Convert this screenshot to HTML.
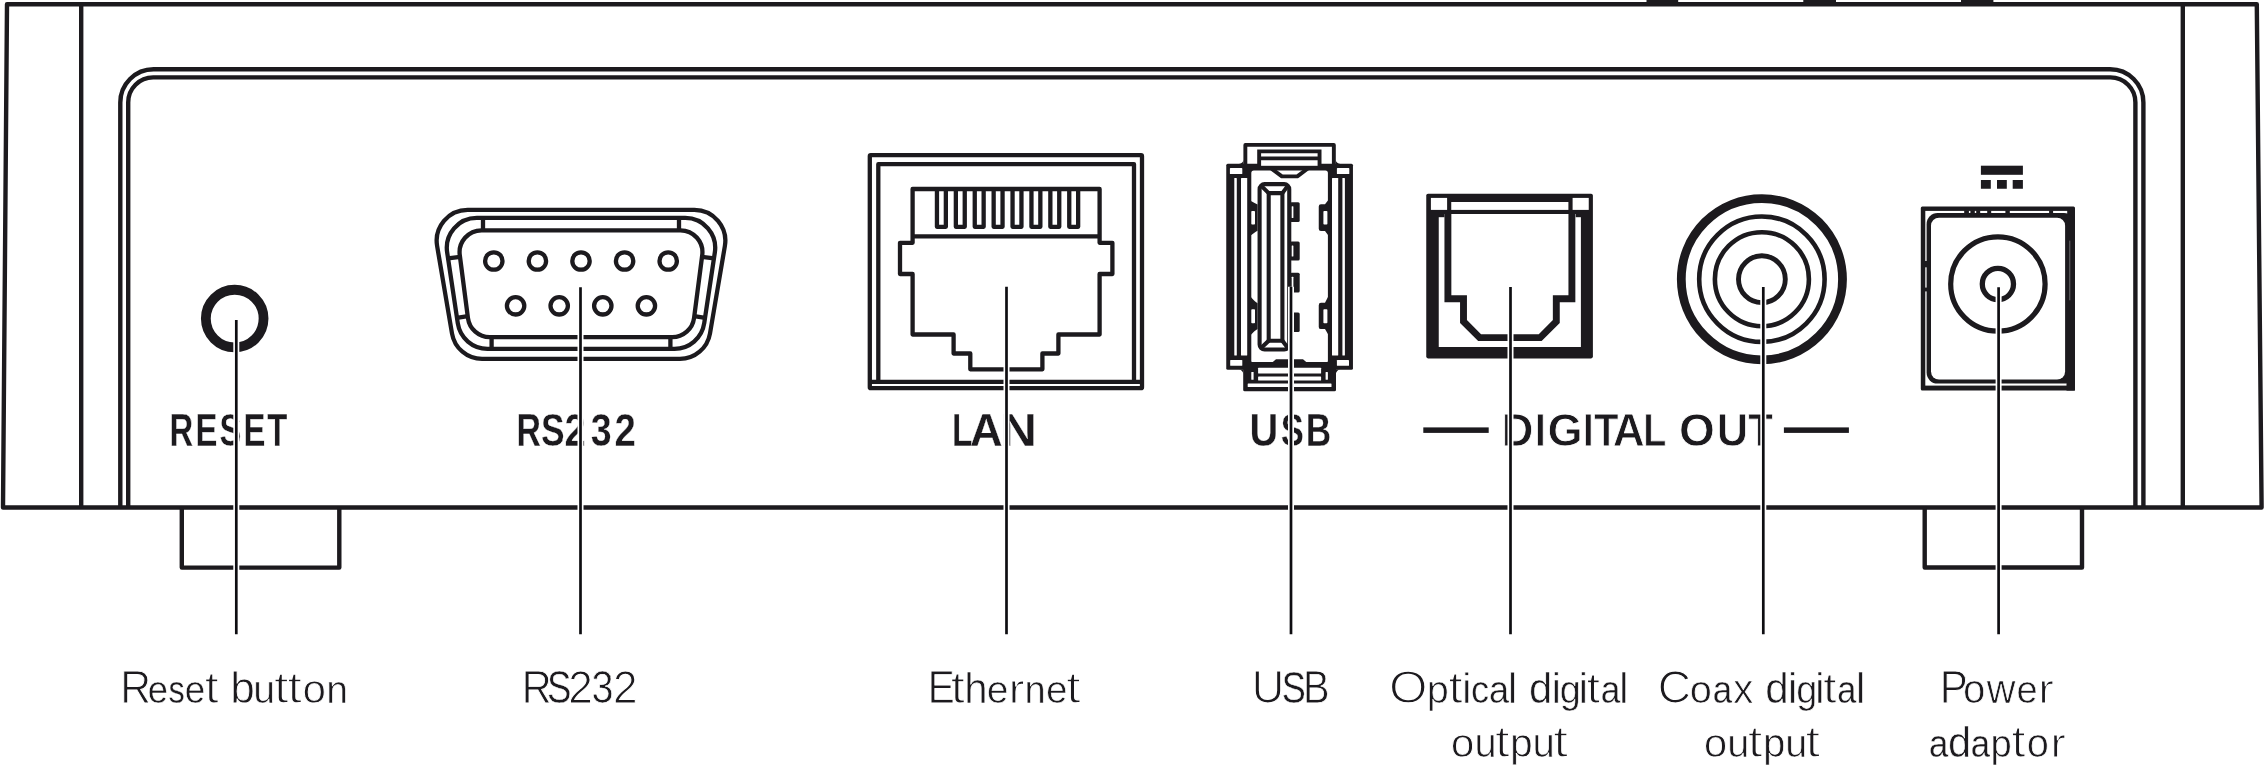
<!DOCTYPE html><html><head><meta charset="utf-8"><title>Rear panel connections</title><style>
html,body{margin:0;padding:0;background:#fff;width:2264px;height:768px;overflow:hidden}
svg{display:block;will-change:transform}
.b{font-family:"Liberation Sans",sans-serif;font-weight:bold;fill:#1c1a1e;stroke:#fff;stroke-width:0.3}
.l{font-family:"Liberation Sans",sans-serif;font-weight:normal;fill:#1c1a1e;stroke:#fff;stroke-width:0.9}
</style></head><body>
<svg width="2264" height="768" viewBox="0 0 2264 768">
<rect width="2264" height="768" fill="#fff"/>
<g fill="none" stroke="#1c1a1e" stroke-width="4.4" stroke-linejoin="round">
<path d="M7 4.2 H2256.8 L2261.6 507.5 H3 Z"/>
<path d="M81.2 4.2 V507.5 M2182.8 4.2 V507.5"/>
<path d="M120.3 507.5 V102.6 A33.3 33.3 0 0 1 153.6 69.3 H2110.1 A33.3 33.3 0 0 1 2143.4 102.6 V507.5"/>
<path d="M128.2 507.5 V102.4 A25 25 0 0 1 153.2 77.4 H2110.4 A25 25 0 0 1 2135.4 102.4 V507.5"/>
<path d="M181.8 507.5 V567.6 H339.3 V507.5"/>
<path d="M1924.7 507.5 V567.5 H2082 V507.5"/>
</g>
<g fill="#1c1a1e">
<path d="M1646.5 0 H1678.2 V2 Q1678.2 2.5 1681.2 4 H1643.5 Q1646.5 2.5 1646.5 2 Z"/>
<path d="M1803.3 0 H1836 V2 Q1836 2.5 1839 4 H1800.3 Q1803.3 2.5 1803.3 2 Z"/>
<path d="M1961 0 H1993.4 V2 Q1993.4 2.5 1996.4 4 H1958 Q1961 2.5 1961 2 Z"/>
</g>
<circle cx="234.7" cy="318.6" r="28.85" fill="none" stroke="#1c1a1e" stroke-width="9.8"/>
<g fill="none" stroke="#1c1a1e" stroke-width="4.3">
<path d="M452 333.51 L437.12 246 A31 31 0 0 1 467.68 209.8 L694.32 209.8 A31 31 0 0 1 724.88 246 L710 333.51 A30.5 30.5 0 0 1 679.93 358.9 L482.07 358.9 A30.5 30.5 0 0 1 452 333.51 Z"/>
<path d="M457.79 323.25 L447.15 252.35 A30 30 0 0 1 476.82 217.9 L685.18 217.9 A30 30 0 0 1 714.85 252.35 L704.21 323.25 A30 30 0 0 1 674.54 348.8 L487.46 348.8 A30 30 0 0 1 457.79 323.25 Z"/>
<path d="M467.94 318.04 L459.77 255.14 A22 22 0 0 1 481.58 230.3 L680.42 230.3 A22 22 0 0 1 702.23 255.14 L694.06 318.04 A22 22 0 0 1 672.24 337.2 L489.76 337.2 A22 22 0 0 1 467.94 318.04 Z"/>
<path d="M483 217.9 V230.3 M679 217.9 V230.3 M491.6 337.2 V348.8 M670.4 337.2 V348.8 M447.94 258.4 L460.09 256.8 M714.06 258.4 L701.91 256.8 M456.85 317.8 L467.81 316.2 M705.15 317.8 L694.19 316.2"/>
<circle cx="493.8" cy="261" r="8.7"/>
<circle cx="537.4" cy="261" r="8.7"/>
<circle cx="581" cy="261" r="8.7"/>
<circle cx="624.6" cy="261" r="8.7"/>
<circle cx="668.2" cy="261" r="8.7"/>
<circle cx="515.6" cy="305.8" r="8.7"/>
<circle cx="559.2" cy="305.8" r="8.7"/>
<circle cx="602.8" cy="305.8" r="8.7"/>
<circle cx="646.4" cy="305.8" r="8.7"/>
</g>
<g fill="none" stroke="#1c1a1e" stroke-width="4.3" stroke-linejoin="round">
<rect x="869.8" y="155.2" width="272.2" height="233" rx="1"/>
<path d="M878.3 381.8 V164.2 H1134 V381.8 M869.8 381.8 H1142"/>
<path d="M912.6 189 H1099.6 V242.8 H1112.4 V274 H1099.6 V334.5 H1058.4 V353.5 H1042.4 V369.3 H970.3 V353.5 H953.6 V334.5 H912.6 V274 H900 V242.8 H912.6 Z"/>
<path d="M912.6 236.3 H1099.6"/>
<path d="M936.95 189 V226.8 H945.85 V189 M955.85 189 V226.8 H964.75 V189 M974.75 189 V226.8 H983.65 V189 M993.65 189 V226.8 H1002.55 V189 M1012.55 189 V226.8 H1021.45 V189 M1031.45 189 V226.8 H1040.35 V189 M1050.35 189 V226.8 H1059.25 V189 M1069.25 189 V226.8 H1078.15 V189"/>
</g>
<rect x="1226.25" y="163.8" width="126.7" height="205.9" rx="1.5" fill="#1c1a1e"/>
<rect x="1229.9" y="168.1" width="12.4" height="5.9" rx="0.6" fill="#fff"/>
<rect x="1336.9" y="168.1" width="12.4" height="5.9" rx="0.6" fill="#fff"/>
<rect x="1234.3" y="177.9" width="2.5" height="177.7" rx="0.6" fill="#fff"/>
<rect x="1342.4" y="177.9" width="2.5" height="177.7" rx="0.6" fill="#fff"/>
<rect x="1241" y="177.9" width="6.2" height="177.7" rx="0.6" fill="#fff"/>
<rect x="1332" y="177.9" width="6.2" height="177.7" rx="0.6" fill="#fff"/>
<rect x="1230.2" y="359.9" width="12.1" height="5.9" rx="0.6" fill="#fff"/>
<rect x="1336.9" y="359.9" width="12.1" height="5.9" rx="0.6" fill="#fff"/>
<rect x="1251.3" y="170.5" width="76.6" height="192.5" rx="2.5" fill="#fff"/>
<path d="M1245.35 166 V144.9 H1333.85 V166" fill="none" stroke="#1c1a1e" stroke-width="3.9" stroke-linejoin="round"/>
<path d="M1239 163.9 H1243.5 V159.4 A4.5 4.5 0 0 1 1239 163.9 Z M1340.2 163.9 H1335.7 V159.4 A4.5 4.5 0 0 0 1340.2 163.9 Z" fill="#1c1a1e"/>
<rect x="1261" y="160.3" width="57.2" height="5.5" fill="#fff"/>
<path d="M1259.15 166 V151.35 H1319.55 V166 M1259.15 158.35 H1319.55" fill="none" stroke="#1c1a1e" stroke-width="3.9"/>
<path d="M1270.7 168 L1281.9 176.35 H1297.3 L1308.5 168" fill="none" stroke="#1c1a1e" stroke-width="3.9" stroke-linejoin="round"/>
<path d="M1271 363.5 L1276 359.2 H1303 L1308 363.5 Z" fill="#1c1a1e"/>
<rect x="1243.2" y="362" width="92.8" height="29.2" rx="1.5" fill="#1c1a1e"/>
<path d="M1238.8 369.6 H1243.3 V374.1 A4.5 4.5 0 0 0 1238.8 369.6 Z M1340.4 369.6 H1335.9 V374.1 A4.5 4.5 0 0 1 1340.4 369.6 Z" fill="#1c1a1e"/>
<rect x="1258.1" y="367.7" width="63" height="5.9" rx="0.5" fill="#fff"/>
<rect x="1258.1" y="376.6" width="63" height="3.9" rx="0.5" fill="#fff"/>
<rect x="1247.7" y="383.6" width="83.8" height="3.3" rx="0.5" fill="#fff"/>
<rect x="1251.3" y="372" width="2.3" height="7.8" rx="0.5" fill="#fff"/>
<rect x="1325.6" y="372" width="2.3" height="7.8" rx="0.5" fill="#fff"/>
<path d="M1250 200.6 Q1255 203.4 1257.6 204.6 V230.8 Q1255 232 1250 236 Z" fill="#1c1a1e"/>
<rect x="1251.3" y="211" width="3.7" height="13.6" rx="0.8" fill="#fff"/>
<path d="M1329.5 198.6 L1325 204.2 H1321 Q1318.75 204.2 1318.75 206.6 V228.8 Q1318.75 231 1321 231 H1325 L1329.5 237 Z" fill="#1c1a1e"/>
<rect x="1323.4" y="211" width="4" height="13.6" rx="0.8" fill="#fff"/>
<path d="M1250 296 Q1255 302 1257.6 303.2 V328.9 Q1255 330.1 1250 335.8 Z" fill="#1c1a1e"/>
<rect x="1251.3" y="309.2" width="3.7" height="14" rx="0.8" fill="#fff"/>
<path d="M1329.5 294 L1325 302.8 H1321 Q1318.75 302.8 1318.75 305.2 V326.9 Q1318.75 329.1 1321 329.1 H1325 L1329.5 336.8 Z" fill="#1c1a1e"/>
<rect x="1323.4" y="309.2" width="4" height="14" rx="0.8" fill="#fff"/>
<g fill="none" stroke="#1c1a1e" stroke-width="4.1" stroke-linejoin="round">
<rect x="1259.6" y="184.15" width="29.65" height="165.4" rx="5"/>
<rect x="1268.7" y="193.1" width="13.7" height="147.6"/>
<path d="M1260.8 185.4 L1268.7 193.1 M1288.1 185.4 L1282.4 193.1 M1260.8 348.3 L1268.7 340.7 M1288.1 348.3 L1282.4 340.7"/>
</g>
<rect x="1290" y="202.3" width="9.7" height="19.6" rx="1.5" fill="#1c1a1e"/>
<rect x="1291.7" y="206.3" width="1.7" height="11.6" rx="0.5" fill="#fff"/>
<rect x="1290" y="241.5" width="9.7" height="19.1" rx="1.5" fill="#1c1a1e"/>
<rect x="1291.7" y="245.5" width="1.7" height="11.1" rx="0.5" fill="#fff"/>
<rect x="1290" y="272.7" width="9.7" height="19.8" rx="1.5" fill="#1c1a1e"/>
<rect x="1291.7" y="276.7" width="1.7" height="11.8" rx="0.5" fill="#fff"/>
<rect x="1290" y="312.4" width="9.7" height="19.5" rx="1.5" fill="#1c1a1e"/>
<rect x="1291.7" y="316.4" width="1.7" height="11.5" rx="0.5" fill="#fff"/>
<rect x="1426.25" y="193.7" width="166.65" height="164.7" rx="1.8" fill="#1c1a1e"/>
<rect x="1430.9" y="197.9" width="16.2" height="12" fill="#fff"/>
<rect x="1572.6" y="197.9" width="16.15" height="12" fill="#fff"/>
<rect x="1451.25" y="202" width="117.15" height="7.9" fill="#fff"/>
<rect x="1438.75" y="217.2" width="142.15" height="129.8" fill="#fff"/>
<rect x="1444.5" y="214" width="131.2" height="8" fill="#fff"/>
<path d="M1447.9 212 V298.8 H1463.5 V321.5 L1479.6 337.6 H1540.2 L1556.3 321.5 V298.8 H1571.9 V212" fill="none" stroke="#1c1a1e" stroke-width="6.9" stroke-linejoin="miter"/>
<g fill="none" stroke="#1c1a1e">
<circle cx="1761.9" cy="279.2" r="80.6" stroke-width="8.8"/>
<circle cx="1761.9" cy="279.2" r="62.7" stroke-width="4.6"/>
<circle cx="1761.9" cy="279.2" r="47" stroke-width="4.6"/>
<circle cx="1761.9" cy="279.2" r="23.4" stroke-width="4.9"/>
</g>
<g fill="#1c1a1e">
<rect x="1980.9" y="165.7" width="42" height="9.1" fill="#1c1a1e"/>
<rect x="1980.9" y="180" width="9.9" height="8.75" fill="#1c1a1e"/>
<rect x="1997" y="180" width="9.8" height="8.75" fill="#1c1a1e"/>
<rect x="2012.7" y="180" width="10.2" height="8.75" fill="#1c1a1e"/>
</g>
<rect x="1920.8" y="206.6" width="154.2" height="184" rx="1.5" fill="#1c1a1e"/>
<rect x="1925.3" y="210.9" width="141.9" height="174.7" fill="#fff"/>
<rect x="1926.6" y="213.1" width="148.4" height="170.5" rx="11" fill="#1c1a1e"/>
<rect x="2066.5" y="375" width="8.5" height="15.6" fill="#1c1a1e"/>
<rect x="1964.2" y="210.3" width="4.7" height="3.2" fill="#1c1a1e"/>
<rect x="1970.4" y="210.3" width="4.4" height="3.2" fill="#1c1a1e"/>
<rect x="1976.2" y="210.3" width="4" height="3.2" fill="#1c1a1e"/>
<rect x="1987.2" y="210.3" width="4" height="3.2" fill="#1c1a1e"/>
<rect x="2005.4" y="210.3" width="4.4" height="3.2" fill="#1c1a1e"/>
<rect x="2049.1" y="210.3" width="4" height="3.2" fill="#1c1a1e"/>
<rect x="1924.8" y="261" width="2.4" height="6.3" fill="#1c1a1e"/>
<rect x="1924.8" y="287.6" width="2.4" height="3.8" fill="#1c1a1e"/>
<rect x="2069.5" y="240.6" width="0.7" height="59.7" fill="#8a898c"/>
<rect x="1931" y="217.7" width="134.1" height="161.9" rx="8" fill="#fff"/>
<g fill="none" stroke="#1c1a1e">
<circle cx="1997.9" cy="284" r="47.2" stroke-width="5.2"/>
<circle cx="1997.9" cy="284" r="15.6" stroke-width="5.3"/>
</g>
<rect x="1423.3" y="427.4" width="65.4" height="5.5" fill="#1c1a1e"/>
<rect x="1783.9" y="427.4" width="65" height="5.5" fill="#1c1a1e"/>
<text class="b" x="169.62" y="445.8" font-size="46" textLength="23.73" lengthAdjust="spacingAndGlyphs" style="stroke-width:0.3">R</text>
<text class="b" x="195.54" y="445.8" font-size="46" textLength="21.91" lengthAdjust="spacingAndGlyphs" style="stroke-width:0.3">E</text>
<text class="b" x="219.56" y="445.8" font-size="46" textLength="21.91" lengthAdjust="spacingAndGlyphs" style="stroke-width:0.3">S</text>
<text class="b" x="243.49" y="445.8" font-size="46" textLength="21.91" lengthAdjust="spacingAndGlyphs" style="stroke-width:0.3">E</text>
<text class="b" x="267.13" y="445.8" font-size="46" textLength="20.07" lengthAdjust="spacingAndGlyphs" style="stroke-width:0.3">T</text>
<text class="b" x="516.5" y="445.8" font-size="46" textLength="24.43" lengthAdjust="spacingAndGlyphs" style="stroke-width:0.3">R</text>
<text class="b" x="541.03" y="445.8" font-size="46" textLength="23.6" lengthAdjust="spacingAndGlyphs" style="stroke-width:0.3">S</text>
<text class="b" x="564.41" y="445.8" font-size="46" textLength="21.19" lengthAdjust="spacingAndGlyphs" style="stroke-width:0.3">2</text>
<text class="b" x="590.8" y="445.8" font-size="46" textLength="20.9" lengthAdjust="spacingAndGlyphs" style="stroke-width:0.3">3</text>
<text class="b" x="614.57" y="445.8" font-size="46" textLength="21.37" lengthAdjust="spacingAndGlyphs" style="stroke-width:0.3">2</text>
<text class="b" x="951.96" y="445.8" font-size="46" textLength="20.47" lengthAdjust="spacingAndGlyphs" style="stroke-width:0.3">L</text>
<text class="b" x="969.86" y="445.8" font-size="46" textLength="33.05" lengthAdjust="spacingAndGlyphs" style="stroke-width:0.3">A</text>
<text class="b" x="1000.42" y="445.8" font-size="46" textLength="36.48" lengthAdjust="spacingAndGlyphs" style="stroke-width:0.3">N</text>
<text class="b" x="1249.51" y="445.8" font-size="46" textLength="28.83" lengthAdjust="spacingAndGlyphs" style="stroke-width:0.3">U</text>
<text class="b" x="1280.72" y="445.8" font-size="46" textLength="23.11" lengthAdjust="spacingAndGlyphs" style="stroke-width:0.3">S</text>
<text class="b" x="1305.72" y="445.8" font-size="46" textLength="25.4" lengthAdjust="spacingAndGlyphs" style="stroke-width:0.3">B</text>
<text class="b" x="1501.65" y="445.8" font-size="46" textLength="31.71" lengthAdjust="spacingAndGlyphs" style="stroke-width:0.8">D</text>
<text class="b" x="1534.93" y="445.8" font-size="46" textLength="10.75" lengthAdjust="spacingAndGlyphs" style="stroke-width:0.8">I</text>
<text class="b" x="1547.5" y="445.8" font-size="46" textLength="35.15" lengthAdjust="spacingAndGlyphs" style="stroke-width:0.8">G</text>
<text class="b" x="1583.02" y="445.8" font-size="46" textLength="10.65" lengthAdjust="spacingAndGlyphs" style="stroke-width:0.8">I</text>
<text class="b" x="1593.89" y="445.8" font-size="46" textLength="24.49" lengthAdjust="spacingAndGlyphs" style="stroke-width:0.8">T</text>
<text class="b" x="1612.76" y="445.8" font-size="46" textLength="32.04" lengthAdjust="spacingAndGlyphs" style="stroke-width:0.8">A</text>
<text class="b" x="1643.22" y="445.8" font-size="46" textLength="23.09" lengthAdjust="spacingAndGlyphs" style="stroke-width:0.8">L</text>
<text class="b" x="1679.1" y="445.8" font-size="46" textLength="35.85" lengthAdjust="spacingAndGlyphs" style="stroke-width:0.8">O</text>
<text class="b" x="1716.85" y="445.8" font-size="46" textLength="31.44" lengthAdjust="spacingAndGlyphs" style="stroke-width:0.8">U</text>
<text class="b" x="1748.19" y="445.8" font-size="46" textLength="24.7" lengthAdjust="spacingAndGlyphs" style="stroke-width:0.8">T</text>
<text class="l" x="120.22" y="702.7" font-size="46.04" textLength="30.83" lengthAdjust="spacingAndGlyphs" style="stroke-width:0.97">R</text>
<text class="l" x="147.84" y="702.7" font-size="39.27" textLength="20.29" lengthAdjust="spacingAndGlyphs" style="stroke-width:0.45">e</text>
<text class="l" x="168.57" y="702.7" font-size="38.99" textLength="16.23" lengthAdjust="spacingAndGlyphs" style="stroke-width:0.3">s</text>
<text class="l" x="184.8" y="702.7" font-size="39.32" textLength="20.48" lengthAdjust="spacingAndGlyphs" style="stroke-width:0.47">e</text>
<text class="l" x="204.66" y="702.7" font-size="43.45" textLength="13.94" lengthAdjust="spacingAndGlyphs" style="stroke-width:1.19">t</text>
<text class="l" x="230.35" y="702.7" font-size="43.47" textLength="24.6" lengthAdjust="spacingAndGlyphs" style="stroke-width:0.8">b</text>
<text class="l" x="253.3" y="702.7" font-size="39.63" textLength="21.75" lengthAdjust="spacingAndGlyphs" style="stroke-width:0.64">u</text>
<text class="l" x="274.06" y="702.7" font-size="43.63" textLength="14.57" lengthAdjust="spacingAndGlyphs" style="stroke-width:1.3">t</text>
<text class="l" x="287.5" y="702.7" font-size="43.58" textLength="14.39" lengthAdjust="spacingAndGlyphs" style="stroke-width:1.27">t</text>
<text class="l" x="302.46" y="702.7" font-size="40.02" textLength="23.48" lengthAdjust="spacingAndGlyphs" style="stroke-width:0.84">o</text>
<text class="l" x="326.15" y="702.7" font-size="39.63" textLength="21.75" lengthAdjust="spacingAndGlyphs" style="stroke-width:0.64">n</text>
<text class="l" x="521.72" y="702.7" font-size="45.89" textLength="29.89" lengthAdjust="spacingAndGlyphs" style="stroke-width:0.88">R</text>
<text class="l" x="546.9" y="702.7" font-size="45.32" textLength="24.43" lengthAdjust="spacingAndGlyphs" style="stroke-width:0.48">S</text>
<text class="l" x="568.27" y="702.7" font-size="46.19" textLength="24.57" lengthAdjust="spacingAndGlyphs" style="stroke-width:1.08">2</text>
<text class="l" x="591.51" y="702.7" font-size="45.69" textLength="22.01" lengthAdjust="spacingAndGlyphs" style="stroke-width:0.73">3</text>
<text class="l" x="613.07" y="702.7" font-size="46.19" textLength="24.57" lengthAdjust="spacingAndGlyphs" style="stroke-width:1.08">2</text>
<text class="l" x="927.69" y="702.7" font-size="45.78" textLength="26.94" lengthAdjust="spacingAndGlyphs" style="stroke-width:0.8">E</text>
<text class="l" x="950.85" y="702.7" font-size="43.49" textLength="14.09" lengthAdjust="spacingAndGlyphs" style="stroke-width:1.22">t</text>
<text class="l" x="964.33" y="702.7" font-size="43.25" textLength="23.35" lengthAdjust="spacingAndGlyphs" style="stroke-width:0.64">h</text>
<text class="l" x="986.86" y="702.7" font-size="39.64" textLength="21.76" lengthAdjust="spacingAndGlyphs" style="stroke-width:0.64">e</text>
<text class="l" x="1008.53" y="702.7" font-size="40.65" textLength="16.05" lengthAdjust="spacingAndGlyphs" style="stroke-width:1.18">r</text>
<text class="l" x="1024.43" y="702.7" font-size="39.5" textLength="21.19" lengthAdjust="spacingAndGlyphs" style="stroke-width:0.57">n</text>
<text class="l" x="1046.08" y="702.7" font-size="39.58" textLength="21.52" lengthAdjust="spacingAndGlyphs" style="stroke-width:0.61">e</text>
<text class="l" x="1066.15" y="702.7" font-size="43.58" textLength="14.39" lengthAdjust="spacingAndGlyphs" style="stroke-width:1.27">t</text>
<text class="l" x="1251.65" y="702.7" font-size="46.27" textLength="32.5" lengthAdjust="spacingAndGlyphs" style="stroke-width:1.13">U</text>
<text class="l" x="1281.67" y="702.7" font-size="45.24" textLength="24.07" lengthAdjust="spacingAndGlyphs" style="stroke-width:0.43">S</text>
<text class="l" x="1303.06" y="702.7" font-size="45.72" textLength="26.6" lengthAdjust="spacingAndGlyphs" style="stroke-width:0.76">B</text>
<text class="l" x="1389.14" y="702.7" font-size="46.66" textLength="38.45" lengthAdjust="spacingAndGlyphs" style="stroke-width:1.4">O</text>
<text class="l" x="1426.83" y="702.7" font-size="39.7" textLength="22.06" lengthAdjust="spacingAndGlyphs" style="stroke-width:0.68">p</text>
<text class="l" x="1448.62" y="702.7" font-size="43.51" textLength="14.16" lengthAdjust="spacingAndGlyphs" style="stroke-width:1.23">t</text>
<text class="l" x="1461.99" y="702.7" font-size="43.4" textLength="9.65" lengthAdjust="spacingAndGlyphs" style="stroke-width:0.75">i</text>
<text class="l" x="1471.12" y="702.7" font-size="39.22" textLength="18.07" lengthAdjust="spacingAndGlyphs" style="stroke-width:0.42">c</text>
<text class="l" x="1489.04" y="702.7" font-size="39.21" textLength="20.09" lengthAdjust="spacingAndGlyphs" style="stroke-width:0.42">a</text>
<text class="l" x="1507.86" y="702.7" font-size="43.4" textLength="9.65" lengthAdjust="spacingAndGlyphs" style="stroke-width:0.75">l</text>
<text class="l" x="1528.96" y="702.7" font-size="43.23" textLength="23.22" lengthAdjust="spacingAndGlyphs" style="stroke-width:0.63">d</text>
<text class="l" x="1551.63" y="702.7" font-size="43.18" textLength="9.17" lengthAdjust="spacingAndGlyphs" style="stroke-width:0.59">i</text>
<text class="l" x="1559.76" y="702.7" font-size="39.46" textLength="21.03" lengthAdjust="spacingAndGlyphs" style="stroke-width:0.55">g</text>
<text class="l" x="1578.83" y="702.7" font-size="43.18" textLength="9.17" lengthAdjust="spacingAndGlyphs" style="stroke-width:0.59">i</text>
<text class="l" x="1586.69" y="702.7" font-size="43.23" textLength="13.25" lengthAdjust="spacingAndGlyphs" style="stroke-width:1.05">t</text>
<text class="l" x="1600.75" y="702.7" font-size="39.06" textLength="19.51" lengthAdjust="spacingAndGlyphs" style="stroke-width:0.33">a</text>
<text class="l" x="1619.31" y="702.7" font-size="43.18" textLength="9.17" lengthAdjust="spacingAndGlyphs" style="stroke-width:0.59">l</text>
<text class="l" x="1450.75" y="757.4" font-size="40.05" textLength="23.6" lengthAdjust="spacingAndGlyphs" style="stroke-width:0.86">o</text>
<text class="l" x="1474.56" y="757.4" font-size="39.72" textLength="22.14" lengthAdjust="spacingAndGlyphs" style="stroke-width:0.69">u</text>
<text class="l" x="1495.11" y="757.4" font-size="43.65" textLength="14.66" lengthAdjust="spacingAndGlyphs" style="stroke-width:1.32">t</text>
<text class="l" x="1510.04" y="757.4" font-size="39.85" textLength="22.71" lengthAdjust="spacingAndGlyphs" style="stroke-width:0.76">p</text>
<text class="l" x="1532.42" y="757.4" font-size="39.78" textLength="22.38" lengthAdjust="spacingAndGlyphs" style="stroke-width:0.72">u</text>
<text class="l" x="1553.31" y="757.4" font-size="43.69" textLength="14.81" lengthAdjust="spacingAndGlyphs" style="stroke-width:1.35">t</text>
<text class="l" x="1657.78" y="702.7" font-size="46.37" textLength="33.25" lengthAdjust="spacingAndGlyphs" style="stroke-width:1.2">C</text>
<text class="l" x="1689.85" y="702.7" font-size="39.71" textLength="22.09" lengthAdjust="spacingAndGlyphs" style="stroke-width:0.68">o</text>
<text class="l" x="1712.79" y="702.7" font-size="39.01" textLength="19.35" lengthAdjust="spacingAndGlyphs" style="stroke-width:0.31">a</text>
<text class="l" x="1733.17" y="702.7" font-size="39.76" textLength="20.05" lengthAdjust="spacingAndGlyphs" style="stroke-width:0.71">x</text>
<text class="l" x="1765.2" y="702.7" font-size="43.27" textLength="23.44" lengthAdjust="spacingAndGlyphs" style="stroke-width:0.65">d</text>
<text class="l" x="1787.97" y="702.7" font-size="43.18" textLength="9.18" lengthAdjust="spacingAndGlyphs" style="stroke-width:0.59">i</text>
<text class="l" x="1796.25" y="702.7" font-size="39.46" textLength="21.04" lengthAdjust="spacingAndGlyphs" style="stroke-width:0.55">g</text>
<text class="l" x="1815.32" y="702.7" font-size="43.18" textLength="9.18" lengthAdjust="spacingAndGlyphs" style="stroke-width:0.59">i</text>
<text class="l" x="1823.18" y="702.7" font-size="43.23" textLength="13.26" lengthAdjust="spacingAndGlyphs" style="stroke-width:1.05">t</text>
<text class="l" x="1837.32" y="702.7" font-size="38.99" textLength="19.01" lengthAdjust="spacingAndGlyphs" style="stroke-width:0.3">a</text>
<text class="l" x="1856" y="702.7" font-size="43.18" textLength="9.18" lengthAdjust="spacingAndGlyphs" style="stroke-width:0.59">l</text>
<text class="l" x="1703.7" y="757.4" font-size="40.03" textLength="23.5" lengthAdjust="spacingAndGlyphs" style="stroke-width:0.85">o</text>
<text class="l" x="1727.21" y="757.4" font-size="39.7" textLength="22.03" lengthAdjust="spacingAndGlyphs" style="stroke-width:0.67">u</text>
<text class="l" x="1747.8" y="757.4" font-size="43.69" textLength="14.79" lengthAdjust="spacingAndGlyphs" style="stroke-width:1.34">t</text>
<text class="l" x="1762.94" y="757.4" font-size="39.79" textLength="22.41" lengthAdjust="spacingAndGlyphs" style="stroke-width:0.72">p</text>
<text class="l" x="1785.28" y="757.4" font-size="39.67" textLength="21.9" lengthAdjust="spacingAndGlyphs" style="stroke-width:0.66">u</text>
<text class="l" x="1805.54" y="757.4" font-size="43.64" textLength="14.61" lengthAdjust="spacingAndGlyphs" style="stroke-width:1.31">t</text>
<text class="l" x="1939.8" y="702.7" font-size="45.97" textLength="28.07" lengthAdjust="spacingAndGlyphs" style="stroke-width:0.93">P</text>
<text class="l" x="1962.93" y="702.7" font-size="39.77" textLength="22.34" lengthAdjust="spacingAndGlyphs" style="stroke-width:0.71">o</text>
<text class="l" x="1986.82" y="702.7" font-size="39.72" textLength="28.73" lengthAdjust="spacingAndGlyphs" style="stroke-width:0.69">w</text>
<text class="l" x="2016.45" y="702.7" font-size="39.49" textLength="21.18" lengthAdjust="spacingAndGlyphs" style="stroke-width:0.57">e</text>
<text class="l" x="2038.25" y="702.7" font-size="40.51" textLength="15.57" lengthAdjust="spacingAndGlyphs" style="stroke-width:1.1">r</text>
<text class="l" x="1928.92" y="757.4" font-size="38.99" textLength="19.2" lengthAdjust="spacingAndGlyphs" style="stroke-width:0.3">a</text>
<text class="l" x="1948.03" y="757.4" font-size="43.2" textLength="23.07" lengthAdjust="spacingAndGlyphs" style="stroke-width:0.6">d</text>
<text class="l" x="1970.84" y="757.4" font-size="38.99" textLength="19.25" lengthAdjust="spacingAndGlyphs" style="stroke-width:0.3">a</text>
<text class="l" x="1990.49" y="757.4" font-size="39.52" textLength="21.27" lengthAdjust="spacingAndGlyphs" style="stroke-width:0.58">p</text>
<text class="l" x="2011.63" y="757.4" font-size="43.47" textLength="14.04" lengthAdjust="spacingAndGlyphs" style="stroke-width:1.21">t</text>
<text class="l" x="2026.85" y="757.4" font-size="39.72" textLength="22.11" lengthAdjust="spacingAndGlyphs" style="stroke-width:0.68">o</text>
<text class="l" x="2050.6" y="757.4" font-size="40.41" textLength="15.22" lengthAdjust="spacingAndGlyphs" style="stroke-width:1.05">r</text>
<g stroke-linecap="butt">
<path d="M236.3 320.1 V634.2" stroke="#fff" stroke-width="6"/>
<path d="M580.5 287.2 V634.2" stroke="#fff" stroke-width="6"/>
<path d="M1006.5 286.7 V634.2" stroke="#fff" stroke-width="6"/>
<path d="M1291 286.7 V634.2" stroke="#fff" stroke-width="6"/>
<path d="M1510.5 286.9 V634.2" stroke="#fff" stroke-width="6"/>
<path d="M1763.3 287.1 V634.2" stroke="#fff" stroke-width="6"/>
<path d="M1998.6 287.2 V634.2" stroke="#fff" stroke-width="6"/>
<path d="M236.3 320.1 V634.2" stroke="#0e0d11" stroke-width="2.7"/>
<path d="M580.5 287.2 V634.2" stroke="#0e0d11" stroke-width="2.7"/>
<path d="M1006.5 286.7 V634.2" stroke="#0e0d11" stroke-width="2.7"/>
<path d="M1291 286.7 V634.2" stroke="#0e0d11" stroke-width="2.7"/>
<path d="M1510.5 286.9 V634.2" stroke="#0e0d11" stroke-width="2.7"/>
<path d="M1763.3 287.1 V634.2" stroke="#0e0d11" stroke-width="2.7"/>
<path d="M1998.6 287.2 V634.2" stroke="#0e0d11" stroke-width="2.7"/>
</g>
</svg></body></html>
